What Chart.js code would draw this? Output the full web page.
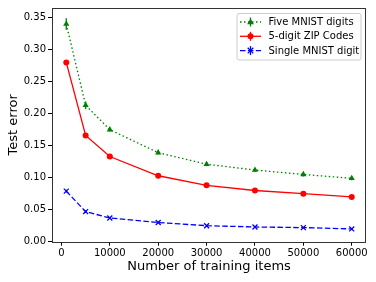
<!DOCTYPE html>
<html>
<head>
<meta charset="utf-8">
<script src="https://cdn.jsdelivr.net/npm/chart.js@4.4.1/dist/chart.umd.min.js"></script>
<style>
  html, body { margin: 0; padding: 0; background: #fff; }
  #wrap { width: 376px; height: 282px; }
</style>
</head>
<body>
<div id="wrap"><canvas id="chart" width="376" height="282"></canvas></div>
<script>
// values
const trainingItems = [1000, 5000, 10000, 20000, 30000, 40000, 50000, 60000];
const fiveMnist    = [0.340, 0.213, 0.175, 0.139, 0.121, 0.112, 0.105, 0.099];
const fiveMnistErr = [0.009, 0.006, 0.003, 0.003, 0.003, 0.003, 0.003, 0.003];
const zipCodes     = [0.280, 0.166, 0.133, 0.103, 0.088, 0.080, 0.075, 0.070];
const zipCodesErr  = [0.003, 0.003, 0.002, 0.002, 0.002, 0.002, 0.002, 0.002];
const singleMnist    = [0.079, 0.047, 0.037, 0.030, 0.025, 0.023, 0.022, 0.020];
const singleMnistErr = [0.002, 0.002, 0.001, 0.001, 0.001, 0.001, 0.001, 0.001];
const xTicks = [0, 10000, 20000, 30000, 40000, 50000, 60000];
const yTicks = [0, 0.05, 0.10, 0.15, 0.20, 0.25, 0.30, 0.35];

const FONT = 'DejaVu Sans';

const series = [
    { label: 'Five MNIST digits', values: fiveMnist, err: fiveMnistErr, color: '#008000', dash: [1.5, 2.5], marker: 'triangle', radius: 3.6 },
    { label: '5-digit ZIP Codes', values: zipCodes, err: zipCodesErr, color: '#ff0000', dash: [], marker: 'circle', radius: 3 },
    { label: 'Single MNIST digit', values: singleMnist, err: singleMnistErr, color: '#0000ff', dash: [5.5, 2.4], marker: 'crossRot', radius: 3.5 }
];

function drawMarker(ctx, style, x, y, r, color) {
    ctx.save();
    ctx.fillStyle = color;
    ctx.strokeStyle = color;
    ctx.lineWidth = 1.3;
    ctx.setLineDash([]);
    ctx.beginPath();
    if (style === 'circle') {
        ctx.arc(x, y, r, 0, Math.PI * 2);
        ctx.fill();
    } else if (style === 'triangle') {
        ctx.moveTo(x, y - r);
        ctx.lineTo(x + r * 0.95, y + r * 0.6);
        ctx.lineTo(x - r * 0.95, y + r * 0.6);
        ctx.closePath();
        ctx.fill();
    } else {
        ctx.moveTo(x - r * 0.8, y - r * 0.8);
        ctx.lineTo(x + r * 0.8, y + r * 0.8);
        ctx.moveTo(x + r * 0.8, y - r * 0.8);
        ctx.lineTo(x - r * 0.8, y + r * 0.8);
        ctx.stroke();
    }
    ctx.restore();
}

const errorBars = {
    id: 'errorBars',
    beforeDatasetsDraw(chart) {
        const ctx = chart.ctx;
        const xs = chart.scales.x, ys = chart.scales.y;
        ctx.save();
        ctx.lineWidth = 1.3;
        series.forEach(s => {
            ctx.strokeStyle = s.color;
            trainingItems.forEach((t, i) => {
                const px = xs.getPixelForValue(t);
                ctx.beginPath();
                ctx.moveTo(px, ys.getPixelForValue(s.values[i] - s.err[i]));
                ctx.lineTo(px, ys.getPixelForValue(s.values[i] + s.err[i]));
                ctx.stroke();
            });
        });
        ctx.restore();
    },
    afterDraw(chart) {
        const ctx = chart.ctx;
        const a = chart.chartArea;
        ctx.save();
        // axes frame
        ctx.strokeStyle = '#333';
        ctx.lineWidth = 1;
        ctx.strokeRect(Math.round(a.left) + 0.5, Math.round(a.top) + 0.5,
            Math.round(a.right - a.left) - 1, Math.round(a.bottom - a.top));

        // legend box
        const bx = 237, by = 13.5, bw = 124, bh = 46.5;
        ctx.beginPath();
        ctx.roundRect(bx, by, bw, bh, 2);
        ctx.fillStyle = 'rgba(255,255,255,0.8)';
        ctx.fill();
        ctx.strokeStyle = '#cccccc';
        ctx.stroke();

        ctx.font = '10px "' + FONT + '"';
        ctx.textBaseline = 'middle';
        ctx.textAlign = 'left';
        series.forEach((s, i) => {
            const y = 22 + i * 14.3;
            ctx.strokeStyle = s.color;
            ctx.lineWidth = 1.3;
            ctx.setLineDash(s.dash);
            ctx.beginPath();
            ctx.moveTo(240, y);
            ctx.lineTo(261, y);
            ctx.stroke();
            ctx.setLineDash([]);
            ctx.beginPath();
            ctx.moveTo(250.5, y - 4.5);
            ctx.lineTo(250.5, y + 4.5);
            ctx.stroke();
            drawMarker(ctx, s.marker, 250.5, y, s.radius, s.color);
            ctx.fillStyle = '#000';
            ctx.fillText(s.label, 268.5, y + 0.5);
        });
        ctx.restore();
    }
};

const datasets = series.map(s => ({
    label: s.label,
    data: trainingItems.map((t, i) => ({ x: t, y: s.values[i] })),
    borderColor: s.color,
    backgroundColor: s.color,
    borderWidth: 1.3,
    borderDash: s.dash,
    pointStyle: s.marker,
    pointRadius: s.radius,
    pointBorderWidth: s.marker === 'crossRot' ? 1.3 : 0,
    pointBorderColor: s.color,
    pointBackgroundColor: s.color,
    tension: 0,
    fill: false
}));

const ctx = document.getElementById('chart').getContext('2d');
const chart = new Chart(ctx, {
    type: 'line',
    data: { datasets: datasets },
    plugins: [errorBars],
    options: {
        responsive: false,
        animation: false,
        events: [],
        layout: { padding: { top: 8, right: 10, left: 0, bottom: 0 } },
        plugins: {
            legend: { display: false },
            tooltip: { enabled: false }
        },
        scales: {
            x: {
                type: 'linear',
                min: -1950,
                max: 62950,
                afterBuildTicks: scale => { scale.ticks = xTicks.map(v => ({ value: v })); },
                afterFit: scale => { scale.height = 40.3; },
                ticks: {
                    callback: v => String(v),
                    font: { size: 10, family: FONT },
                    color: '#000',
                    padding: 2,
                    maxRotation: 0,
                    autoSkip: false
                },
                grid: { drawOnChartArea: false, drawTicks: true, tickLength: 4, color: '#000', tickWidth: 1 },
                border: { display: false },
                title: {
                    display: true,
                    text: 'Number of training items',
                    font: { size: 13, family: FONT },
                    color: '#000',
                    padding: { top: 0, bottom: 8 }
                }
            },
            y: {
                type: 'linear',
                min: 0,
                max: 0.365,
                afterBuildTicks: scale => { scale.ticks = yTicks.map(v => ({ value: v })); },
                afterFit: scale => { scale.width = 52; },
                ticks: {
                    callback: v => v.toFixed(2),
                    font: { size: 10, family: FONT },
                    color: '#000',
                    padding: 2,
                    autoSkip: false
                },
                grid: { drawOnChartArea: false, drawTicks: true, tickLength: 4, color: '#000', tickWidth: 1 },
                border: { display: false },
                title: {
                    display: true,
                    text: 'Test error',
                    font: { size: 13, family: FONT },
                    color: '#000',
                    padding: { top: 6, bottom: 0 }
                }
            }
        }
    }
});
</script>
</body>
</html>
